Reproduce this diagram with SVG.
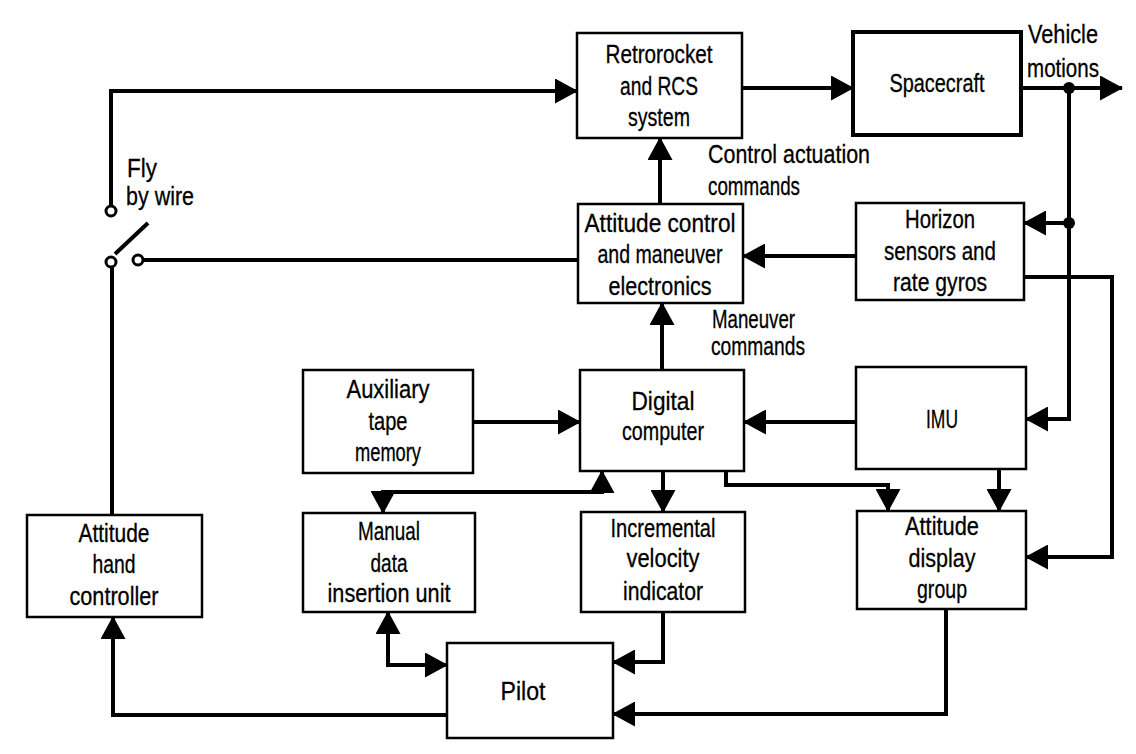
<svg xmlns="http://www.w3.org/2000/svg" width="1136" height="754" viewBox="0 0 1136 754">
  <defs>
    <marker id="arrow" markerUnits="userSpaceOnUse" markerWidth="23" markerHeight="25" refX="22" refY="12.5" orient="auto">
      <path d="M0,0 L23,12.5 L0,25 z" fill="#000"/>
    </marker>
    <marker id="arrowStart" markerUnits="userSpaceOnUse" markerWidth="23" markerHeight="25" refX="1" refY="12.5" orient="auto">
      <path d="M23,0 L0,12.5 L23,25 z" fill="#000"/>
    </marker>
    <style>
      .box { fill: #fff; stroke: #000; stroke-width: 2.5; }
      .heavy { stroke-width: 4; }
      .wire { fill: none; stroke: #000; stroke-width: 4; stroke-linejoin: miter; }
      .arr { marker-end: url(#arrow); }
      .both { marker-start: url(#arrowStart); marker-end: url(#arrow); }
      .contact { fill: #fff; stroke: #000; stroke-width: 3; }
      .dot { fill: #000; }
      text { font-family: "Liberation Sans", Arial, sans-serif; font-size: 26px; fill: #000; stroke: #000; stroke-width: 0.3; }
      .c { text-anchor: middle; }
    </style>
  </defs>
  <rect width="1136" height="754" fill="#fff"/>

  <!-- connectors -->
  <g id="connectors">
    <path class="wire arr" d="M111,207 V91 H577"/>
    <path class="wire arr" d="M742,88 H853"/>
    <path class="wire arr" d="M1021,88 H1122"/>
    <path class="wire arr" d="M1069,88 V419 H1026"/>
    <path class="wire arr" d="M1069,223 H1024"/>
    <path class="wire arr" d="M1024,277 H1112 V557 H1026"/>
    <path class="wire arr" d="M856,256 H743"/>
    <path class="wire arr" d="M660,204 V138"/>
    <path class="wire" d="M143,260 H578"/>
    <path class="wire arr" d="M662,370 V303"/>
    <path class="wire arr" d="M473,422 H580"/>
    <path class="wire arr" d="M857,422 H744"/>
    <path class="wire both" d="M383,513 V492 H602 V471"/>
    <path class="wire arr" d="M663,471 V512"/>
    <path class="wire arr" d="M726,471 V485 H888 V511"/>
    <path class="wire arr" d="M999,469 V511"/>
    <path class="wire arr" d="M663,612 V662 H613"/>
    <path class="wire arr" d="M946,609 V714 H613"/>
    <path class="wire both" d="M388,612 V665 H447"/>
    <path class="wire arr" d="M447,715 H113 V617"/>
    <path class="wire" d="M112,515 V267"/>
    <circle class="dot" cx="1069" cy="88" r="6"/>
    <circle class="dot" cx="1069" cy="223" r="6"/>
  </g>

  <!-- fly-by-wire switch -->
  <g id="switch">
    <line x1="115" y1="254" x2="148" y2="223" stroke="#000" stroke-width="4"/>
    <circle class="contact" cx="111" cy="211" r="5"/>
    <circle class="contact" cx="111" cy="262" r="5"/>
    <circle class="contact" cx="138" cy="260" r="5"/>
    <text x="127" y="177" textLength="30" lengthAdjust="spacingAndGlyphs">Fly</text>
    <text x="126" y="205" textLength="68" lengthAdjust="spacingAndGlyphs">by wire</text>
  </g>

  <g id="retrorocket">
    <rect class="box" x="577" y="33" width="165" height="105"/>
    <text class="c" x="659" y="63" textLength="107" lengthAdjust="spacingAndGlyphs">Retrorocket</text>
    <text class="c" x="659" y="95" textLength="78" lengthAdjust="spacingAndGlyphs">and RCS</text>
    <text class="c" x="659" y="126" textLength="62" lengthAdjust="spacingAndGlyphs">system</text>
  </g>

  <g id="spacecraft">
    <rect class="box heavy" x="853" y="32" width="168" height="103"/>
    <text class="c" x="937" y="92" textLength="95" lengthAdjust="spacingAndGlyphs">Spacecraft</text>
  </g>

  <g id="vehicle-motions">
    <text class="c" x="1063" y="43" textLength="70" lengthAdjust="spacingAndGlyphs">Vehicle</text>
    <text class="c" x="1063" y="77" textLength="72" lengthAdjust="spacingAndGlyphs">motions</text>
  </g>

  <g id="control-actuation-label">
    <text x="708" y="163" textLength="162" lengthAdjust="spacingAndGlyphs">Control actuation</text>
    <text x="708" y="195" textLength="92" lengthAdjust="spacingAndGlyphs">commands</text>
  </g>

  <g id="attitude-control">
    <rect class="box" x="578" y="204" width="165" height="99"/>
    <text class="c" x="660" y="232" textLength="151" lengthAdjust="spacingAndGlyphs">Attitude control</text>
    <text class="c" x="660" y="263" textLength="125" lengthAdjust="spacingAndGlyphs">and maneuver</text>
    <text class="c" x="660" y="295" textLength="103" lengthAdjust="spacingAndGlyphs">electronics</text>
  </g>

  <g id="horizon-sensors">
    <rect class="box" x="856" y="203" width="168" height="97"/>
    <text class="c" x="940" y="228" textLength="70" lengthAdjust="spacingAndGlyphs">Horizon</text>
    <text class="c" x="940" y="260" textLength="112" lengthAdjust="spacingAndGlyphs">sensors and</text>
    <text class="c" x="940" y="291" textLength="94" lengthAdjust="spacingAndGlyphs">rate gyros</text>
  </g>

  <g id="maneuver-label">
    <text x="712" y="328" textLength="83" lengthAdjust="spacingAndGlyphs">Maneuver</text>
    <text x="711" y="355" textLength="94" lengthAdjust="spacingAndGlyphs">commands</text>
  </g>

  <g id="auxiliary-tape">
    <rect class="box" x="303" y="370" width="170" height="103"/>
    <text class="c" x="388" y="398" textLength="83" lengthAdjust="spacingAndGlyphs">Auxiliary</text>
    <text class="c" x="388" y="430" textLength="39" lengthAdjust="spacingAndGlyphs">tape</text>
    <text class="c" x="388" y="461" textLength="66" lengthAdjust="spacingAndGlyphs">memory</text>
  </g>

  <g id="digital-computer">
    <rect class="box" x="580" y="370" width="164" height="101"/>
    <text class="c" x="663" y="410" textLength="63" lengthAdjust="spacingAndGlyphs">Digital</text>
    <text class="c" x="663" y="440" textLength="82" lengthAdjust="spacingAndGlyphs">computer</text>
  </g>

  <g id="imu">
    <rect class="box" x="856" y="367" width="170" height="102"/>
    <text class="c" x="942" y="428" textLength="32" lengthAdjust="spacingAndGlyphs">IMU</text>
  </g>

  <g id="hand-controller">
    <rect class="box" x="27" y="515" width="175" height="102"/>
    <text class="c" x="114" y="542" textLength="71" lengthAdjust="spacingAndGlyphs">Attitude</text>
    <text class="c" x="114" y="573" textLength="43" lengthAdjust="spacingAndGlyphs">hand</text>
    <text class="c" x="114" y="605" textLength="89" lengthAdjust="spacingAndGlyphs">controller</text>
  </g>

  <g id="manual-data">
    <rect class="box" x="303" y="513" width="172" height="99"/>
    <text class="c" x="389" y="540" textLength="62" lengthAdjust="spacingAndGlyphs">Manual</text>
    <text class="c" x="389" y="572" textLength="37" lengthAdjust="spacingAndGlyphs">data</text>
    <text class="c" x="389" y="602" textLength="123" lengthAdjust="spacingAndGlyphs">insertion unit</text>
  </g>

  <g id="incremental-velocity">
    <rect class="box" x="581" y="512" width="164" height="100"/>
    <text class="c" x="663" y="537" textLength="105" lengthAdjust="spacingAndGlyphs">Incremental</text>
    <text class="c" x="663" y="567" textLength="73" lengthAdjust="spacingAndGlyphs">velocity</text>
    <text class="c" x="663" y="600" textLength="80" lengthAdjust="spacingAndGlyphs">indicator</text>
  </g>

  <g id="attitude-display">
    <rect class="box" x="857" y="511" width="169" height="98"/>
    <text class="c" x="942" y="535" textLength="74" lengthAdjust="spacingAndGlyphs">Attitude</text>
    <text class="c" x="942" y="567" textLength="67" lengthAdjust="spacingAndGlyphs">display</text>
    <text class="c" x="942" y="598" textLength="50" lengthAdjust="spacingAndGlyphs">group</text>
  </g>

  <g id="pilot">
    <rect class="box" x="447" y="643" width="166" height="95"/>
    <text class="c" x="523" y="700" textLength="45" lengthAdjust="spacingAndGlyphs">Pilot</text>
  </g>
</svg>
